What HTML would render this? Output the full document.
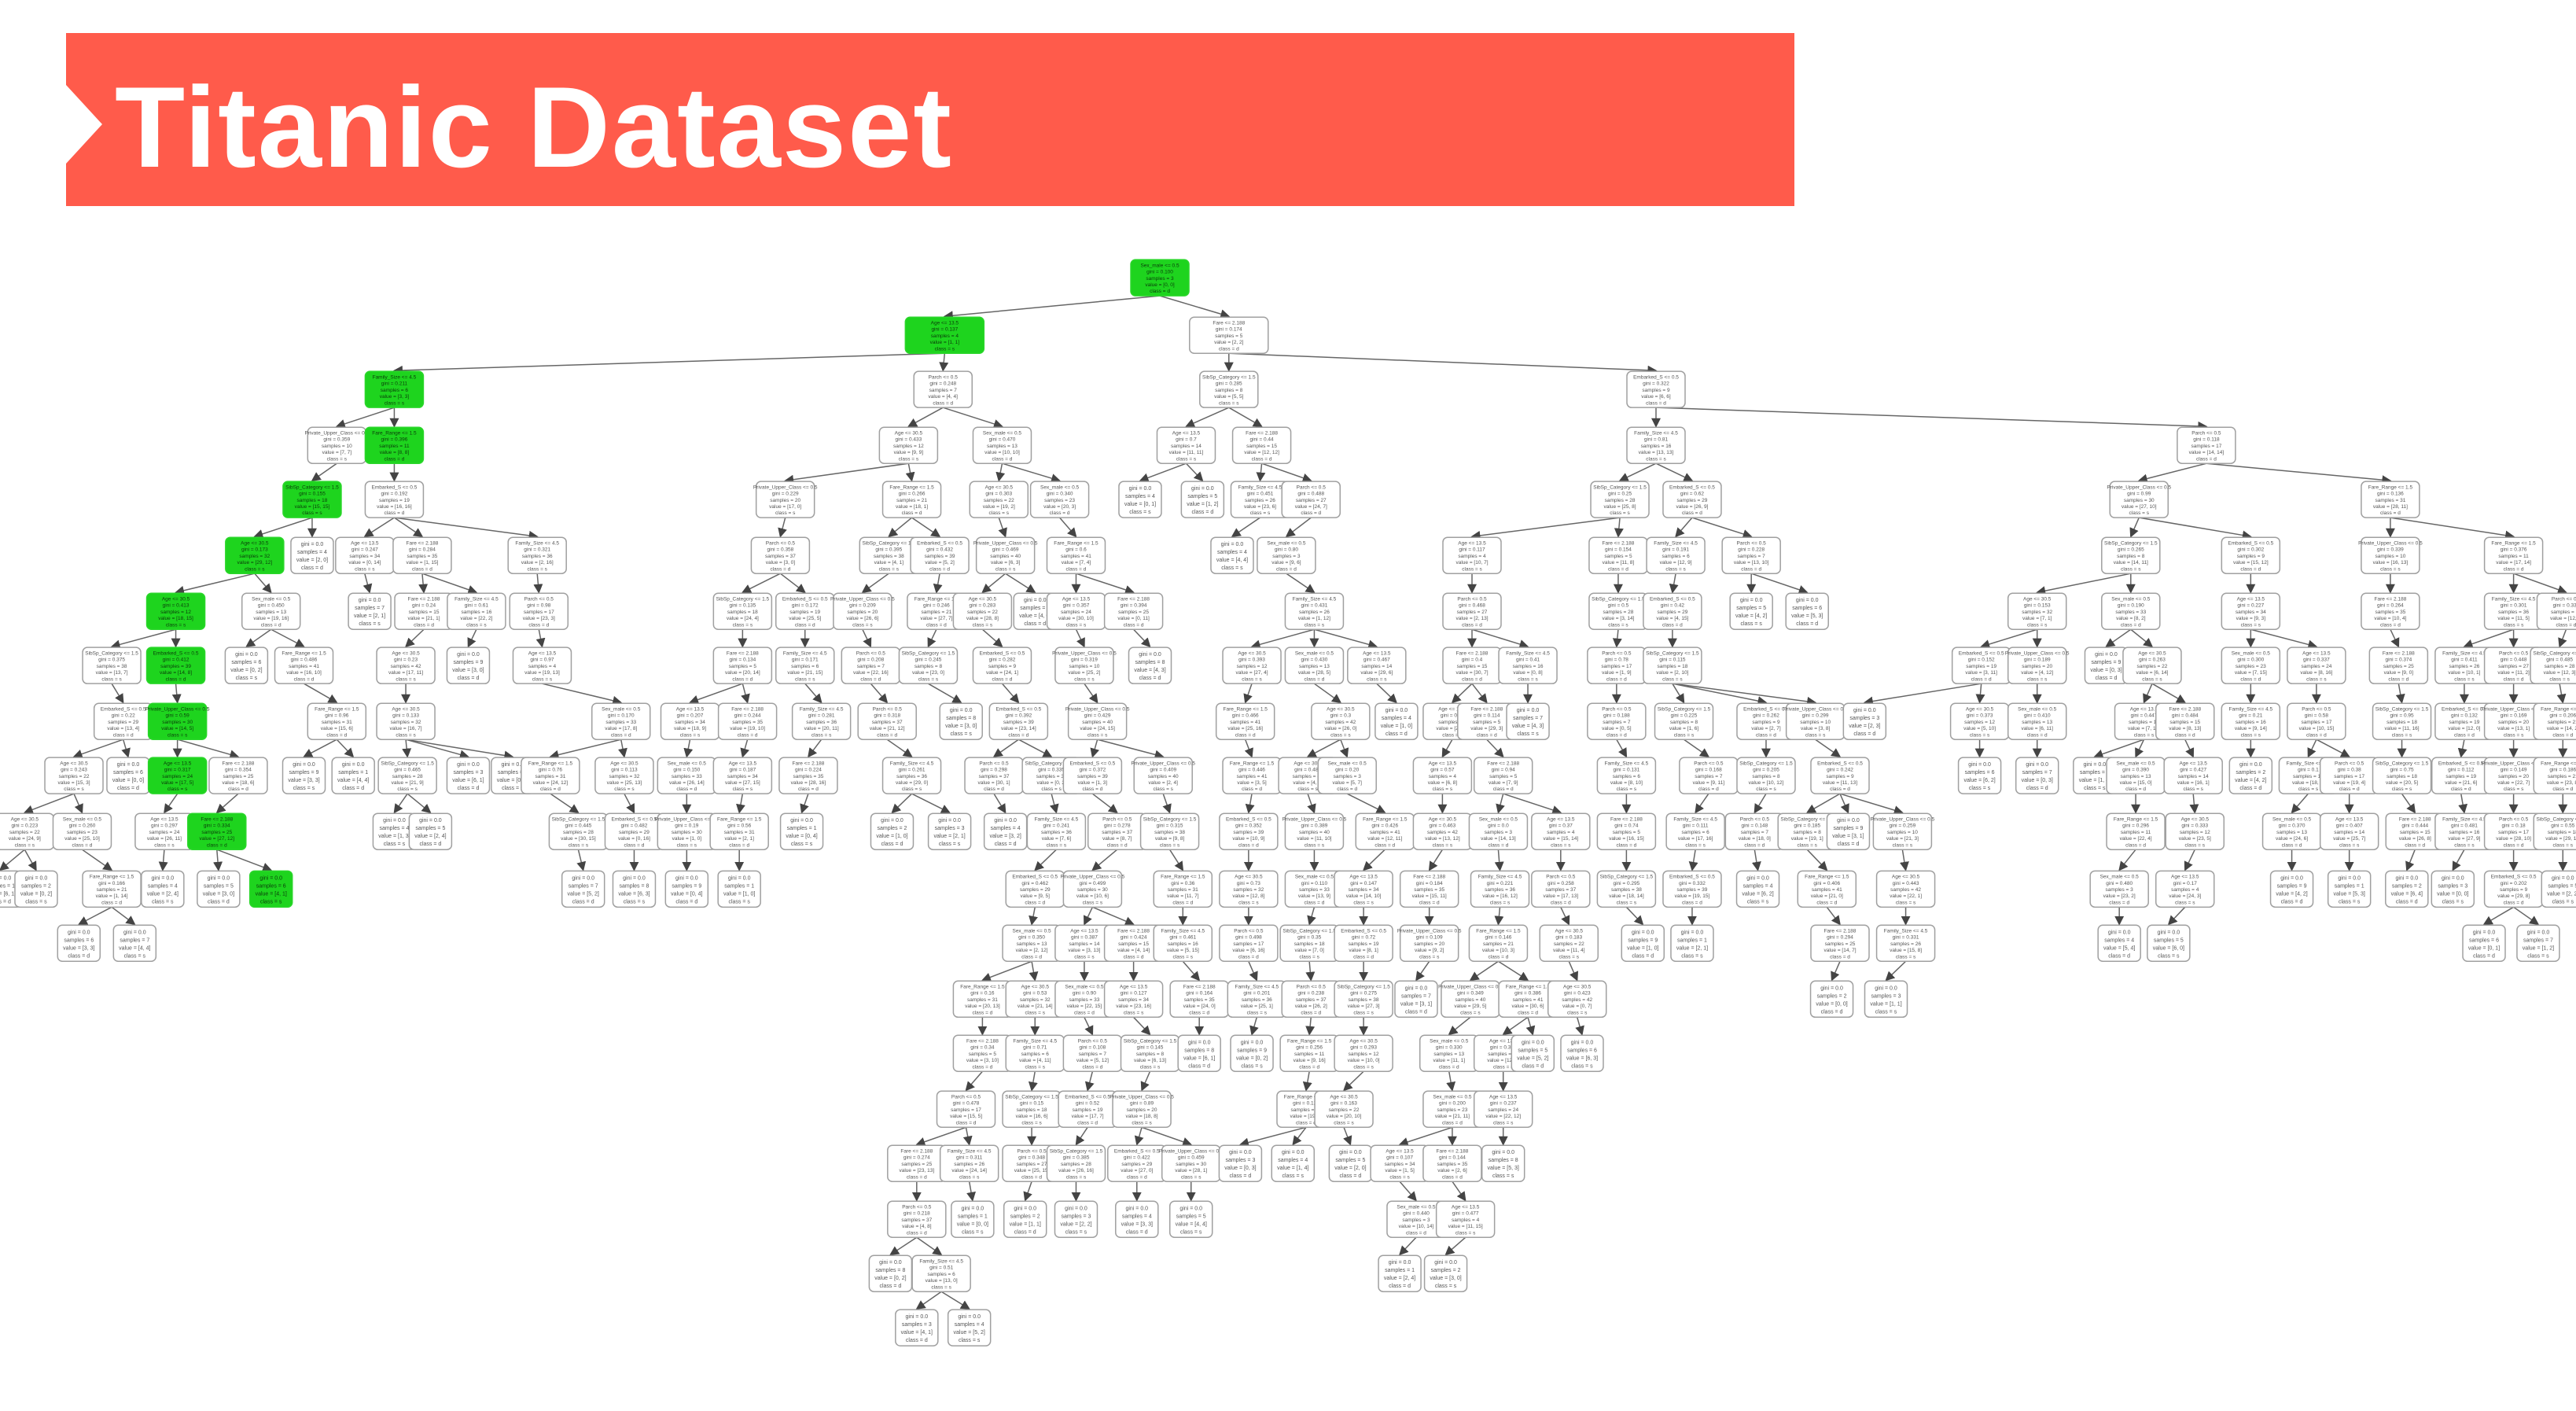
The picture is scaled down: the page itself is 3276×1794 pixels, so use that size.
<!DOCTYPE html>
<html><head><meta charset="utf-8"><title>Titanic Dataset decision tree</title>
<style>
html,body{margin:0;padding:0;background:#fff;}
body{width:3276px;height:1794px;overflow:hidden;position:relative;font-family:"Liberation Sans",sans-serif;}
#banner{position:absolute;left:84px;top:42px;width:2198px;height:220px;background:#ff5b4b;}
#notch{position:absolute;left:84px;top:108px;width:0;height:0;border-top:50px solid transparent;border-bottom:50px solid transparent;border-left:46px solid #fff;}
#title{position:absolute;left:146px;top:72px;font-size:146px;font-weight:bold;color:#fff;letter-spacing:2px;line-height:180px;white-space:nowrap;}
svg{position:absolute;left:0;top:0;}
</style></head>
<body>
<div id="banner"></div>
<div id="notch"></div>
<div id="title">Titanic Dataset</div>
<svg id="tree" width="3276" height="1794"></svg>
<script>
// node x-centres per depth level (in 1568-wide reference units)
const level0 = [706];
const level1 = [575, 748];
const level2 = [240, 574, 748, 1008];
const level3 = [205, 240, 553, 610, 722, 768, 1008, 1343];
const level4 = [190, 240, 478, 555, 608, 645, 694, 732, 767, 798, 986, 1030, 1302, 1455];
const level5 = [155, 190, 222, 257, 327, 475, 541, 572, 612, 655, 750, 783, 896, 985, 1020, 1066, 1297, 1370, 1455, 1530];
const level6 = [107, 165, 225, 258, 290, 328, 452, 490, 525, 570, 598, 630, 655, 690, 800, 896, 985, 1018, 1066, 1100, 1240, 1297, 1370, 1455, 1530, 1562];
const level7 = [68, 107, 150, 185, 247, 285, 330, 452, 490, 530, 565, 610, 660, 700, 762, 800, 838, 896, 930, 984, 1018, 1206, 1240, 1282, 1310, 1370, 1410, 1460, 1500, 1530, 1558];
const level8 = [75, 108, 205, 247, 378, 420, 455, 500, 540, 585, 620, 668, 758, 816, 850, 884, 905, 930, 984, 1025, 1075, 1105, 1135, 1205, 1240, 1305, 1330, 1370, 1410, 1462, 1500, 1530, 1560];
const level9 = [45, 78, 108, 145, 185, 215, 248, 285, 312, 335, 380, 418, 452, 492, 555, 605, 640, 665, 708, 762, 796, 820, 878, 915, 990, 1040, 1075, 1120, 1205, 1240, 1275, 1300, 1335, 1370, 1405, 1430, 1462, 1498, 1530, 1560];
const level10 = [15, 50, 100, 132, 240, 262, 352, 386, 418, 450, 488, 543, 578, 612, 643, 680, 712, 760, 800, 843, 878, 912, 950, 990, 1032, 1068, 1100, 1125, 1158, 1300, 1336, 1395, 1430, 1470, 1500, 1530, 1560];
const level11 = [0, 22, 68, 99, 133, 165, 355, 386, 418, 450, 630, 665, 720, 760, 800, 830, 870, 913, 950, 990, 1030, 1070, 1112, 1160, 1290, 1330, 1395, 1430, 1465, 1493, 1530, 1560];
const level12 = [48, 82, 628, 660, 690, 720, 760, 797, 830, 870, 912, 955, 1000, 1030, 1120, 1160, 1290, 1320, 1512, 1545];
const level13 = [598, 630, 660, 690, 730, 765, 798, 830, 862, 895, 930, 960, 1115, 1148];
const level14 = [598, 630, 665, 700, 730, 762, 797, 830, 882, 915, 933, 963];
const level15 = [588, 628, 662, 695, 795, 818, 884, 915];
const level16 = [558, 590, 628, 655, 692, 725, 755, 787, 822, 852, 884, 915];
const level17 = [558, 592, 624, 655, 692, 725, 862, 892];
const level18 = [542, 573, 852, 880];
const level19 = [558, 590];
const levelTops = [158,193,226,260,293,327,361,394,428,461,495,530,563,597,630,664,697,731,764,797];
// green (class-highlighted) path nodes: "level:x"
const greenNodes = ["0:706","1:575","2:240","3:240","4:190","5:155","6:107","7:107","8:108","9:108","10:132","11:165"];
const splitLabels = ["Sex_male <= 0.5","Age <= 13.5","Fare <= 2.188","Family_Size <= 4.5","Parch <= 0.5","SibSp_Category <= 1.5","Embarked_S <= 0.5","Private_Upper_Class <= 0.5","Fare_Range <= 1.5","Age <= 30.5"];

const levels=[level0,level1,level2,level3,level4,level5,level6,level7,level8,level9,level10,level11,level12,level13,level14,level15,level16,level17,level18,level19];
const S=3276/1568, H=46;
const svg=document.getElementById('tree');
const NS="http://www.w3.org/2000/svg";
const defs=document.createElementNS(NS,'defs');
defs.innerHTML='<marker id="ar" markerWidth="8" markerHeight="8" refX="7" refY="4" orient="auto"><path d="M0,0 L8,4 L0,8 z" fill="#444"/></marker>';
svg.appendChild(defs);
const gEdges=document.createElementNS(NS,'g');svg.appendChild(gEdges);
const gNodes=document.createElementNS(NS,'g');svg.appendChild(gNodes);
const nodes=[];
levels.forEach((arr,L)=>arr.forEach(x=>nodes.push({L,x,cx:x*S,top:levelTops[L]*S,kids:0,parent:null})));
nodes.forEach(n=>{
  if(n.L===0)return;
  let best=null,bd=1e9;
  nodes.forEach(p=>{if(p.L===n.L-1){const d=Math.abs(p.x-n.x);if(d<bd){bd=d;best=p;}}});
  n.parent=best;best.kids++;
});
nodes.forEach((n,i)=>{
  const green=greenNodes.includes(n.L+":"+n.x);
  const leaf=n.kids===0;
  n.w=n.L<=1?(n.L===0?74:100):(leaf?54:74);
  if(n.parent){
    const p=n.parent;
    const ln=document.createElementNS(NS,'line');
    ln.setAttribute('x1',p.cx);ln.setAttribute('y1',p.top+H);
    ln.setAttribute('x2',n.cx);ln.setAttribute('y2',n.top-1);
    ln.setAttribute('stroke','#666');ln.setAttribute('stroke-width','1.5');
    ln.setAttribute('marker-end','url(#ar)');
    
    
    gEdges.appendChild(ln);
  }
  const g=document.createElementNS(NS,'g');
  
  
  const r=document.createElementNS(NS,'rect');
  r.setAttribute('x',n.cx-n.w/2);r.setAttribute('y',n.top);
  r.setAttribute('width',n.w);r.setAttribute('height',H);
  r.setAttribute('rx',6);
  r.setAttribute('fill',green?'#1ed41e':'#fff');
  r.setAttribute('stroke',green?'#2bd62b':'#a0a0a0');r.setAttribute('stroke-width','1.5');
  g.appendChild(r);
  const lines=leaf?["gini = 0.0","samples = "+(1+i%9),"value = ["+(i%7)+", "+(i%5)+"]","class = "+(i%2?"s":"d")]
    :[splitLabels[i%splitLabels.length],"gini = 0."+(100+i*37)%500,"samples = "+(3+i%40),"value = ["+(i%31)+", "+(i%17)+"]","class = "+(i%2?"s":"d")];
  const lh=H/(lines.length+0.6);
  lines.forEach((t,k)=>{
    const tx=document.createElementNS(NS,'text');
    tx.setAttribute('x',n.cx);tx.setAttribute('y',n.top+lh*(k+1)+1);
    tx.setAttribute('text-anchor','middle');
    tx.setAttribute('font-size',leaf?'7':'6.5');
    tx.setAttribute('font-family','Liberation Sans, sans-serif');
    tx.setAttribute('fill',green?'#0a3a0a':'#555');
    tx.textContent=t;
    g.appendChild(tx);
  });
  gNodes.appendChild(g);
});
</script>
</body></html>
